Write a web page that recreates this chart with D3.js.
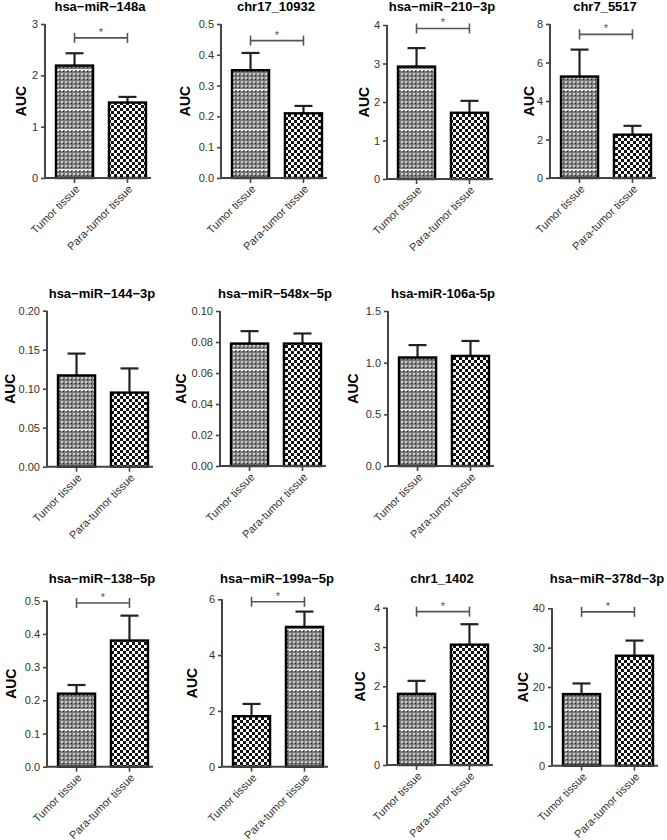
<!DOCTYPE html>
<html>
<head>
<meta charset="utf-8">
<script src="https://cdn.jsdelivr.net/npm/d3@7/dist/d3.min.js"></script>
<style>
  html, body { margin: 0; padding: 0; background: #fff; }
  svg { display: block; font-family: Arial, "Liberation Sans", Helvetica, sans-serif; }
</style>
</head>
<body>
<svg id="chart" width="667" height="840"></svg>
<script>
// ---------------- DATA ----------------
const categories = ["Tumor tissue", "Para-tumor tissue"];
const titles = ["hsa\u2212miR\u2212148a", "chr17_10932", "hsa\u2212miR\u2212210\u22123p", "chr7_5517",
                "hsa\u2212miR\u2212144\u22123p", "hsa\u2212miR\u2212548x\u22125p", "hsa-miR-106a-5p",
                "hsa\u2212miR\u2212138\u22125p", "hsa\u2212miR\u2212199a\u22125p", "chr1_1402", "hsa\u2212miR\u2212378d\u22123p"];
const tumorMean = [2.19, 0.35, 2.92, 5.27, 0.117, 0.079, 1.05, 0.22, 1.81, 1.81, 18.2];
const tumorUpper = [2.43, 0.406, 3.40, 6.67, 0.145, 0.087, 1.17, 0.246, 2.25, 2.14, 20.9];
const paraMean = [1.47, 0.21, 1.72, 2.25, 0.095, 0.079, 1.065, 0.38, 5.01, 3.06, 27.95];
const paraUpper = [1.58, 0.234, 2.03, 2.71, 0.126, 0.0855, 1.21, 0.455, 5.56, 3.58, 31.8];
const yMax = [3, 0.5, 4, 8, 0.2, 0.1, 1.5, 0.5, 6, 4, 40];
const yStep = [1, 0.1, 1, 2, 0.05, 0.02, 0.5, 0.1, 2, 1, 10];
const tickDecimals = [0, 1, 0, 0, 2, 2, 1, 1, 0, 0, 0];
const significant = [true, true, true, true, false, false, false, true, true, true, true];
const sigLevel = [2.73, 0.446, 3.91, 7.46, null, null, null, 0.493, 5.91, 3.90, 39.1];

// ---------------- LAYOUT (positions / styles) ----------------
const axisX = [45, 221, 387, 550, 47, 220, 388, 47, 222, 387, 552];
const yTopPx = [24, 24, 25, 24, 310.7, 311, 311, 600.7, 599.3, 607.7, 608.3];
const yZeroPx = [178, 178, 179, 178, 466.7, 466, 466, 766.7, 766.7, 765, 765.7];
const titleY = [11, 11, 11, 11, 298, 298, 298, 583, 583, 583, 583];
const labelOff = [-24, -36, -23, -21, -37, -39, -35, -36, -30, -27, -29];
const swapFill = [false, false, false, false, false, false, false, false, true, false, false];

const svg = d3.select("#chart");
const defs = svg.append("defs");

// fine dotted gray pattern with occasional light rows
const pd = defs.append("pattern").attr("id", "dots").attr("patternUnits", "userSpaceOnUse")
  .attr("width", 4).attr("height", 20);
pd.append("rect").attr("width", 4).attr("height", 20).attr("fill", "#7a7a7a");
for (let r = 0; r < 5; r++) {
  pd.append("rect").attr("x", 1).attr("y", r * 4 + 1).attr("width", 2).attr("height", 2)
    .attr("fill", r === 2 ? "#ffffff" : "#cfcfcf");
  pd.append("rect").attr("x", 3).attr("y", r * 4 + 3).attr("width", 1).attr("height", 1)
    .attr("fill", "#2a2a2a");
}
pd.append("rect").attr("x", 0).attr("y", 9).attr("width", 4).attr("height", 1).attr("fill", "#ececec");

// checker pattern
const pc = defs.append("pattern").attr("id", "checker").attr("patternUnits", "userSpaceOnUse")
  .attr("width", 6).attr("height", 6);
pc.append("rect").attr("width", 6).attr("height", 6).attr("fill", "#ffffff");
pc.append("rect").attr("x", 0).attr("y", 0).attr("width", 3).attr("height", 3).attr("fill", "#111");
pc.append("rect").attr("x", 3).attr("y", 3).attr("width", 3).attr("height", 3).attr("fill", "#111");

const axisColor = "#444";
const textColor = "#333";

titles.forEach((title, i) => {
  const g = svg.append("g");
  const x0 = axisX[i];
  const y = d3.scaleLinear().domain([0, yMax[i]]).range([yZeroPx[i], yTopPx[i]]);
  const x = d3.scaleBand().domain(categories).range([x0 + 11, x0 + 101]).paddingInner(0.3);
  const xEnd = x0 + 106;

  const means = [tumorMean[i], paraMean[i]];
  const uppers = [tumorUpper[i], paraUpper[i]];
  const fills = swapFill[i] ? ["url(#checker)", "url(#dots)"] : ["url(#dots)", "url(#checker)"];

  // error bars (upper only)
  categories.forEach((c, k) => {
    const cx = x(c) + x.bandwidth() / 2;
    g.append("line").attr("x1", cx).attr("x2", cx).attr("y1", y(means[k])).attr("y2", y(uppers[k]))
      .attr("stroke", "#222").attr("stroke-width", 2.2);
    g.append("line").attr("x1", cx - 9).attr("x2", cx + 9).attr("y1", y(uppers[k])).attr("y2", y(uppers[k]))
      .attr("stroke", "#222").attr("stroke-width", 2.2);
  });

  // bars
  categories.forEach((c, k) => {
    g.append("rect").attr("x", x(c)).attr("y", y(means[k]))
      .attr("width", x.bandwidth()).attr("height", y(0) - y(means[k]))
      .attr("fill", fills[k]).attr("stroke", "#000").attr("stroke-width", 2.4);
  });

  // y axis
  const ticks = d3.range(0, yMax[i] + yStep[i] / 2, yStep[i]);
  const yAxis = d3.axisLeft(y).tickValues(ticks).tickSize(4).tickPadding(3)
    .tickFormat(d3.format("." + tickDecimals[i] + "f"));
  const ya = g.append("g").attr("transform", `translate(${x0},0)`).call(yAxis);
  ya.select(".domain").attr("stroke", axisColor).attr("stroke-width", 2)
    .attr("d", `M0,${y(0)}V${y(yMax[i])}`);
  ya.selectAll(".tick line").attr("stroke", axisColor).attr("stroke-width", 1.6);
  ya.selectAll(".tick text").attr("fill", textColor).style("font-size", "11px")
    .style("font-family", "Arial, 'Liberation Sans', sans-serif");

  // x axis line
  g.append("line").attr("x1", x0).attr("x2", xEnd).attr("y1", y(0)).attr("y2", y(0))
    .attr("stroke", axisColor).attr("stroke-width", 2);
  categories.forEach(c => {
    const cx = x(c) + x.bandwidth() / 2;
    g.append("line").attr("x1", cx).attr("x2", cx).attr("y1", y(0)).attr("y2", y(0) + 5)
      .attr("stroke", axisColor).attr("stroke-width", 1.6);
    g.append("text").attr("transform", `translate(${cx + 3},${y(0) + 9}) rotate(-45)`)
      .attr("text-anchor", "end").attr("dy", "0.35em")
      .attr("fill", textColor).style("font-size", "11px").text(c);
  });

  // title
  g.append("text").attr("x", x0 + 55).attr("y", titleY[i]).attr("text-anchor", "middle")
    .attr("fill", "#000").style("font-size", "13px").style("font-weight", "bold").text(title);

  // y label
  const midY = (y(0) + y(yMax[i])) / 2;
  g.append("text").attr("transform", `translate(${x0 + labelOff[i]},${midY}) rotate(-90)`)
    .attr("text-anchor", "middle").attr("dy", "0.35em")
    .attr("fill", "#000").style("font-size", "14px").style("font-weight", "bold").text("AUC");

  // significance bracket
  if (significant[i]) {
    const by = y(sigLevel[i]);
    const xa = x(categories[0]) + x.bandwidth() / 2;
    const xb = x(categories[1]) + x.bandwidth() / 2;
    g.append("line").attr("x1", xa).attr("x2", xb).attr("y1", by).attr("y2", by)
      .attr("stroke", "#555").attr("stroke-width", 1.6);
    [xa, xb].forEach(xx => g.append("line").attr("x1", xx).attr("x2", xx)
      .attr("y1", by - 5).attr("y2", by + 5).attr("stroke", "#555").attr("stroke-width", 1.6));
    g.append("text").attr("x", (xa + xb) / 2).attr("y", by - 2).attr("text-anchor", "middle")
      .attr("fill", "#555").style("font-size", "11px").text("*");
  }
});
</script>
</body>
</html>
